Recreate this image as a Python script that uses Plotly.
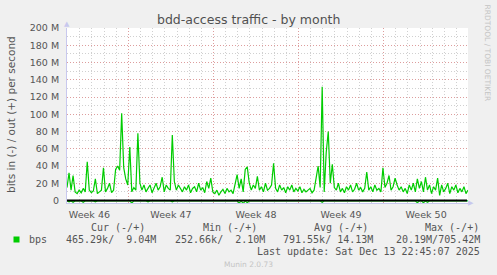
import plotly.graph_objects as go
import pandas as pd

# ---------------- data ----------------
start_time = "2025-11-10 22:45:07"
end_time = "2025-12-13 22:45:07"

# outbound traffic (+), Mbit/s, one value per 4 hours
out_mbps = [
    15, 32, 12, 29, 10, 8,
    12, 9, 14, 10, 45, 12,
    9, 11, 25, 8, 10, 12,
    38, 10, 14, 20, 9, 12,
    36, 40, 35, 101, 38, 25,
    18, 62, 10, 15, 12, 78,
    20, 12, 18, 10, 14, 18,
    9, 15, 20, 12, 16, 27,
    10, 18, 14, 12, 76, 22,
    12, 18, 14, 10, 16, 12,
    18, 9, 14, 16, 10, 20,
    12, 15, 9, 22, 14, 26,
    10, 8, 12, 6, 10, 13,
    8, 14, 10, 12, 8, 20,
    30, 14, 25, 10, 36, 39,
    20, 12, 18, 14, 28, 12,
    16, 10, 20, 12, 14, 18,
    43, 14, 10, 18, 12, 15,
    9, 16, 12, 18, 10, 14,
    11, 16, 9, 13, 10, 12,
    14, 9, 12, 26, 40, 15,
    132, 10, 56, 80, 20, 42,
    15, 12, 20, 10, 14, 9,
    16, 12, 18, 10, 13, 20,
    12, 15, 10, 14, 33, 12,
    16, 10, 18, 12, 14, 10,
    38, 15, 20, 29, 12, 16,
    26, 18, 12, 16, 10, 14,
    8, 18, 12, 20, 10, 25,
    14, 22, 10, 27, 12, 18,
    8, 16, 12, 26, 6, 18,
    10, 14, 20, 8, 16, 12,
    18, 9, 14, 10, 16, 8, 12,
]

# inbound traffic (-), Mbit/s magnitude, one value per 4 hours
in_mbps = [
    0.5, 1.5, 0.5, 2.0, 0.5, 0.5, 1.2, 0.5, 2.0, 0.5,
    0.5, 0.5, 0.5, 0.5, 1.5, 0.5, 0.5, 0.5, 1.0, 0.5,
    0.5, 0.5, 0.5, 0.5, 0.5, 0.5, 0.5, 0.5, 0.5, 0.5,
    0.5, 0.5, 3.0, 0.5, 0.5, 0.5, 0.5, 0.5, 0.5, 0.5,
    1.5, 0.5, 0.5, 0.5, 0.5, 0.5, 0.5, 1.0, 0.5, 0.5,
    0.5, 0.5, 1.5, 0.5, 0.5, 0.5, 0.5, 0.5, 0.5, 0.5,
    1.0, 0.5, 0.5, 0.5, 0.5, 0.5, 0.5, 0.5, 0.5, 0.5,
    1.2, 0.5, 0.5, 0.5, 0.5, 0.5, 0.5, 0.5, 1.0, 0.5,
    0.5, 0.5, 0.5, 0.5, 0.5, 3.0, 0.5, 3.5, 0.5, 2.5,
    0.5, 0.5, 0.5, 0.5, 0.5, 0.5, 1.0, 0.5, 0.5, 0.5,
    0.5, 0.5, 0.5, 0.5, 0.5, 0.5, 0.5, 0.5, 0.5, 0.5,
    1.0, 0.5, 0.5, 0.5, 0.5, 0.5, 0.5, 0.5, 0.5, 0.5,
    0.5, 0.5, 0.5, 0.5, 0.5, 0.5, 2.0, 0.5, 0.5, 0.5,
    0.5, 0.5, 0.5, 0.5, 0.5, 1.0, 0.5, 0.5, 0.5, 0.5,
    0.5, 0.5, 0.5, 0.5, 0.5, 0.5, 0.5, 0.5, 0.5, 0.5,
    1.0, 0.5, 0.5, 0.5, 0.5, 0.5, 0.5, 0.5, 0.5, 0.5,
    0.5, 0.5, 0.5, 0.5, 1.0, 0.5, 0.5, 0.5, 0.5, 0.5,
    0.5, 0.5, 0.5, 2.5, 0.5, 0.5, 2.5, 0.5, 2.0, 0.5,
    0.5, 0.5, 0.5, 0.5, 1.0, 0.5, 0.5, 0.5, 0.5, 0.5,
    1.2, 0.5, 0.5, 0.5, 0.5, 0.5, 1.0, 0.5, 0.5,
]

week_lines = ["2025-11-16", "2025-11-23", "2025-11-30", "2025-12-07"]
week_label_pos = ["2025-11-12 19:00", "2025-11-19 12:00", "2025-11-26 12:00",
                  "2025-12-03 12:00", "2025-12-10 12:00"]
week_labels = ["Week 46", "Week 47", "Week 48", "Week 49", "Week 50"]

y_ticks = [0, 20, 40, 60, 80, 100, 120, 140, 160, 180, 200]
y_tick_text = ["0"] + [f"{v} M" for v in y_ticks[1:]]

legend_name = "bps"
stat_headers = ["Cur (-/+)", "Min (-/+)", "Avg (-/+)", "Max (-/+)"]
stat_values = ["465.29k/  9.04M", "252.66k/  2.10M", "791.55k/ 14.13M", "20.19M/705.42M"]
last_update = "Last update: Sat Dec 13 22:45:07 2025"
title_text = "bdd-access traffic - by month"
y_title = "bits in (-) / out (+) per second"

# ---------------- layout geometry (pixels) ----------------
W, H = 497, 275
L, R, T, B = 67, 468, 28, 203
PW, PH = R - L, B - T


def xp(px):
    return (px - L) / PW


def yp(py):
    return (B - py) / PH


times = pd.date_range(start_time, periods=len(out_mbps), freq="4h")
GREEN = "#00CC00"
TXT = "#555555"
RED_GRID = "rgba(226,140,140,0.75)"
GREY_GRID = "#D0D0D0"
AXIS = "#C8C8EE"

fig = go.Figure()
fig.add_trace(go.Scatter(x=times, y=out_mbps, mode="lines",
                         line=dict(color=GREEN, width=1.2), showlegend=False,
                         hoverinfo="skip"))
fig.add_trace(go.Scatter(x=times, y=[-v for v in in_mbps], mode="lines",
                         line=dict(color=GREEN, width=1.2), showlegend=False,
                         hoverinfo="skip"))
# invisible trace to activate the label axis
fig.add_trace(go.Scatter(x=[start_time], y=[None], xaxis="x2", showlegend=False,
                         hoverinfo="skip"))

fig.update_layout(
    width=W, height=H,
    margin=dict(l=L, r=W - R, t=T, b=H - B, pad=0),
    paper_bgcolor="#F0F0F0",
    plot_bgcolor="#FFFFFF",
    font=dict(family="DejaVu Sans", color=TXT, size=10),
    xaxis=dict(
        type="date", range=[start_time, end_time],
        tickmode="array", tickvals=week_lines, showticklabels=False,
        showgrid=True, gridcolor=RED_GRID, griddash="1px,2px", gridwidth=1,
        ticks="", zeroline=False,
        showline=True, linecolor=AXIS, linewidth=1,
        minor=dict(dtick=86400000, tick0="2025-11-16", showgrid=True,
                   gridcolor=GREY_GRID, griddash="1px,2px", gridwidth=1, ticks=""),
    ),
    xaxis2=dict(
        type="date", range=[start_time, end_time], overlaying="x", anchor="y",
        side="bottom", tickmode="array", tickvals=week_label_pos,
        ticktext=week_labels, showgrid=False, ticks="", zeroline=False,
        tickfont=dict(size=9.5, color=TXT, family="DejaVu Sans"),
        ticklabelstandoff=4,
    ),
    yaxis=dict(
        range=[-2.9, 200], tickmode="array", tickvals=y_ticks,
        ticktext=y_tick_text, showgrid=True, gridcolor=RED_GRID,
        griddash="1px,2px", gridwidth=1, ticks="", zeroline=False,
        showline=True, linecolor=AXIS, linewidth=1,
        tickfont=dict(size=9.5, color=TXT, family="DejaVu Sans"),
        ticklabelstandoff=5,
        minor=dict(dtick=10, tick0=0, showgrid=True, gridcolor=GREY_GRID,
                   griddash="1px,2px", gridwidth=1, ticks=""),
    ),
)

shapes = [
    # zero reference line
    dict(type="line", xref="paper", yref="y", x0=0, x1=xp(467), y0=0, y1=0,
         line=dict(color="#000000", width=2), layer="above"),
    # legend colour box
    dict(type="rect", xref="paper", yref="paper", x0=xp(13.5), x1=xp(19.5),
         y0=yp(242.5), y1=yp(236.5), fillcolor=GREEN, line=dict(width=0)),
]
fig.update_layout(shapes=shapes)

ann = []
ann.append(dict(text=title_text, xref="paper", yref="paper", x=xp(248.5), y=yp(19.5),
                showarrow=False, xanchor="center", yanchor="middle",
                font=dict(size=12.5, color="#505050", family="DejaVu Sans")))
ann.append(dict(text=y_title, xref="paper", yref="paper", x=xp(11), y=yp(115),
                showarrow=False, textangle=-90, xanchor="center", yanchor="middle",
                font=dict(size=10.5, color=TXT, family="DejaVu Sans")))
ann.append(dict(text="RRDTOOL / TOBI OETIKER", xref="paper", yref="paper",
                x=xp(487.5), y=yp(53), showarrow=False, textangle=90,
                xanchor="center", yanchor="middle",
                font=dict(size=7.5, color="#C4C4C4", family="DejaVu Sans")))
# axis arrows
ann.append(dict(text="▲", xref="paper", yref="paper", x=xp(67), y=yp(24),
                showarrow=False, xanchor="center", yanchor="middle",
                font=dict(size=7, color=AXIS)))
ann.append(dict(text="▶", xref="paper", yref="paper", x=xp(471), y=yp(203),
                showarrow=False, xanchor="center", yanchor="middle",
                font=dict(size=7, color=AXIS)))

MONO = "DejaVu Sans Mono"
header_x = [89, 200.7, 312.3, 422.7]
for hx, htxt in zip(header_x, stat_headers):
    ann.append(dict(text=htxt.replace(" ", "&nbsp;"), xref="paper", yref="paper",
                    x=xp(hx), y=yp(227.5), showarrow=False, xanchor="left",
                    yanchor="middle", font=dict(size=10, color=TXT, family=MONO)))
ann.append(dict(text=legend_name, xref="paper", yref="paper", x=xp(26.5), y=yp(239.5),
                showarrow=False, xanchor="left", yanchor="middle",
                font=dict(size=10, color=TXT, family=MONO)))
value_end_x = [157.7, 266.7, 375, 482]
for vx, vtxt in zip(value_end_x, stat_values):
    ann.append(dict(text=vtxt.replace(" ", "&nbsp;"), xref="paper", yref="paper",
                    x=xp(vx), y=yp(239.5), showarrow=False, xanchor="right",
                    yanchor="middle", font=dict(size=10, color=TXT, family=MONO)))
ann.append(dict(text=last_update.replace(" ", "&nbsp;"), xref="paper", yref="paper",
                x=xp(482.3), y=yp(251), showarrow=False, xanchor="right",
                yanchor="middle", font=dict(size=10, color=TXT, family=MONO)))
ann.append(dict(text="Munin 2.0.73", xref="paper", yref="paper", x=xp(248), y=yp(264.5),
                showarrow=False, xanchor="center", yanchor="middle",
                font=dict(size=7.5, color="#C4C4C4", family="DejaVu Sans")))
fig.update_layout(annotations=ann)

fig.write_html("out.html")
